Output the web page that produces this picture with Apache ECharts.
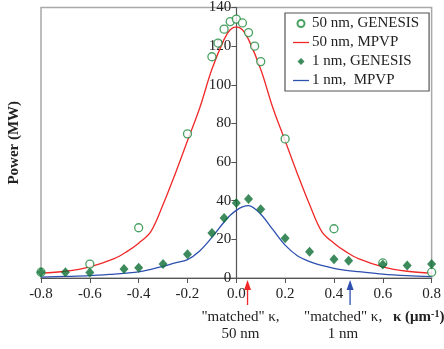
<!DOCTYPE html>
<html>
<head>
<meta charset="utf-8">
<script src="https://cdn.jsdelivr.net/npm/echarts@6/dist/echarts.min.js"></script>
<style>
  html, body { margin: 0; padding: 0; background: #fff; }
  #chart { width: 444px; height: 349px; }
</style>
</head>
<body>
<div id="chart"></div>
<script>
// GENESIS simulation points, 50 nm: [kappa (1/um), power (MW)]
const genesis50 = [
  [-0.8, 3], [-0.6, 7.2], [-0.4, 26], [-0.2, 74.6], [-0.1, 114.5], [-0.075, 121.6],
  [-0.05, 128.8], [-0.025, 132.7], [0, 134], [0.025, 132], [0.05, 127], [0.075, 120],
  [0.1, 112], [0.2, 72], [0.4, 25.5], [0.6, 7.8], [0.8, 3]
];
// GENESIS simulation points, 1 nm
const genesis1 = [
  [-0.8, 3], [-0.7, 3], [-0.6, 2.9], [-0.46, 4.6], [-0.4, 5.3], [-0.3, 7.2],
  [-0.2, 12.3], [-0.1, 23.3], [-0.05, 31], [0, 38.8], [0.05, 40.9], [0.1, 35.6],
  [0.2, 20.6], [0.3, 13.6], [0.4, 9.7], [0.46, 8.9], [0.6, 7], [0.7, 6.5], [0.8, 7.3]
];
// MPVP model curves
const mpvpKappa = [-0.8, -0.7, -0.6, -0.5, -0.45, -0.4, -0.35, -0.3, -0.25, -0.2, -0.15, -0.1, -0.05, -0.025,
  0, 0.025, 0.05, 0.1, 0.15, 0.2, 0.25, 0.3, 0.35, 0.4, 0.45, 0.5, 0.6, 0.7, 0.8];
const mpvp50 = [2.5, 3.5, 5.8, 10, 13.5, 18, 24, 38, 54, 71, 88, 108, 123.5, 128.5,
  130, 128.5, 123.5, 108, 88, 71, 54, 38, 24, 18, 13.5, 10, 5.8, 3.5, 2.5];
const mpvp1 = [0.5, 0.8, 1.2, 2, 2.5, 3.2, 4.5, 6, 7.8, 9.5, 14, 21, 29, 32.5,
  35, 36.8, 37.5, 33, 25, 17, 11.5, 8.5, 6.5, 5, 4, 3.3, 2, 1.2, 0.7];

// matched kappa markers below the axis
const matchedKappa = [0.046, 0.466];
const matchedLabels = ['50 nm', '1 nm'];
const matchedColors = ['#f02828', '#2d4fb0'];

const yTicks = { min: 0, max: 140, step: 20 };
const xTicks = { min: -0.8, max: 0.8, step: 0.2 };

const serif = '"Liberation Serif", "DejaVu Serif", serif';
const pair = (xs, ys) => xs.map((x, i) => [x, ys[i]]);
const lineIcon = 'path://M0,0 L20,0 L20,1.6 L0,1.6 Z';
const diamondIcon = 'path://M4,0 L8,4 L4,8 L0,4 Z';

const gridLeft = 41;
const chart = echarts.init(document.getElementById('chart'), null, { renderer: 'canvas' });

chart.setOption({
  animation: false,
  backgroundColor: '#fff',
  grid: {
    left: gridLeft, right: 9, top: 4, bottom: 71,
    show: true, borderColor: '#a8a8a8', borderWidth: 1.5, backgroundColor: 'transparent'
  },
  legend: {
    orient: 'vertical',
    left: 285, top: 13,
    width: 143,
    padding: [3, 10, 3, 8],
    itemGap: 4,
    itemWidth: 16, itemHeight: 7,
    symbolKeepAspect: true,
    borderColor: '#555', borderWidth: 1.2,
    backgroundColor: '#fff',
    textStyle: { fontFamily: serif, fontSize: 15, color: '#222', padding: [0, 0, 0, -2] },
    data: [
      { name: '50 nm, GENESIS', icon: 'circle' },
      { name: '50 nm, MPVP', icon: lineIcon },
      { name: '1 nm, GENESIS', icon: diamondIcon },
      { name: '1 nm,  MPVP', icon: lineIcon }
    ]
  },
  xAxis: {
    type: 'value',
    min: xTicks.min, max: xTicks.max, interval: xTicks.step,
    axisLine: { onZero: false, lineStyle: { color: '#555', width: 1.2 } },
    axisTick: { show: true, length: 5, lineStyle: { color: '#555' } },
    splitLine: { show: false },
    axisLabel: {
      fontFamily: serif, fontSize: 15, color: '#222', margin: 9,
      formatter: v => v.toFixed(1)
    }
  },
  yAxis: {
    type: 'value',
    min: yTicks.min, max: yTicks.max, interval: yTicks.step,
    axisLine: { show: true, onZero: false, lineStyle: { color: '#555', width: 1.2 } },
    axisTick: { show: true, length: 5, lineStyle: { color: '#555' } },
    splitLine: { show: false },
    axisLabel: { fontFamily: serif, fontSize: 15, color: '#222', margin: 5 }
  },
  series: [
    {
      name: '50 nm, MPVP', type: 'line', smooth: 0.35, symbol: 'none',
      data: pair(mpvpKappa, mpvp50),
      lineStyle: { color: '#f02828', width: 1.3 }, itemStyle: { color: '#f02828' }, z: 2
    },
    {
      name: '1 nm,  MPVP', type: 'line', smooth: 0.35, symbol: 'none',
      data: pair(mpvpKappa, mpvp1),
      lineStyle: { color: '#2d4fb0', width: 1.3 }, itemStyle: { color: '#2d4fb0' }, z: 2
    },
    {
      name: '50 nm, GENESIS', type: 'scatter', symbol: 'circle', symbolSize: 8,
      data: genesis50,
      itemStyle: { color: '#fff', borderColor: '#1c8a3c', borderWidth: 1.3 }, z: 3
    },
    {
      name: '1 nm, GENESIS', type: 'scatter', symbol: 'diamond', symbolSize: [9, 10],
      data: genesis1,
      itemStyle: { color: '#0d6e33' }, z: 4
    }
  ]
});

// Move the value axis onto kappa = 0, then add the axis title, arrows and notes
function drawNotes() {
  const zeroX = chart.convertToPixel({ xAxisIndex: 0 }, 0);
  chart.setOption({ yAxis: { offset: -(zeroX - gridLeft) } });

  const axisY = chart.convertToPixel({ yAxisIndex: 0 }, 0);
  const topY = chart.convertToPixel({ yAxisIndex: 0 }, yTicks.max);
  const els = [];
  els.push({
    type: 'text', x: 14, y: (axisY + topY) / 2,
    rotation: Math.PI / 2,
    style: { text: 'Power (MW)', font: 'bold 15px ' + serif, fill: '#222', align: 'center', verticalAlign: 'middle' },
    silent: true
  });
  matchedKappa.forEach((k, i) => {
    const x = chart.convertToPixel({ xAxisIndex: 0 }, k);
    const c = matchedColors[i];
    els.push({
      type: 'line',
      shape: { x1: x, y1: axisY + 10, x2: x, y2: axisY + 27 },
      style: { stroke: c, lineWidth: 1.3 }
    });
    els.push({
      type: 'polygon',
      shape: { points: [[x, axisY + 2], [x - 3.5, axisY + 12], [x + 3.5, axisY + 12]] },
      style: { fill: c }
    });
    const cx = x - 7;
    els.push({
      type: 'text', x: cx, y: axisY + 39,
      style: { text: '"matched" κ,', font: '15px ' + serif, fill: '#222', align: 'center', verticalAlign: 'middle' }
    });
    els.push({
      type: 'text', x: cx, y: axisY + 56,
      style: { text: matchedLabels[i], font: '15px ' + serif, fill: '#222', align: 'center', verticalAlign: 'middle' }
    });
  });
  els.push({
    type: 'text', x: 393, y: axisY + 39,
    style: {
      text: '{b|κ (μm}{s|-1}{b|)}',
      verticalAlign: 'middle',
      rich: {
        b: { font: 'bold 15px ' + serif, fill: '#222' },
        s: { font: 'bold 10px ' + serif, fill: '#222', verticalAlign: 'top', padding: [0, 0, 6, 0] }
      }
    }
  });
  chart.setOption({ graphic: { elements: els } });
}
drawNotes();
</script>
</body>
</html>
